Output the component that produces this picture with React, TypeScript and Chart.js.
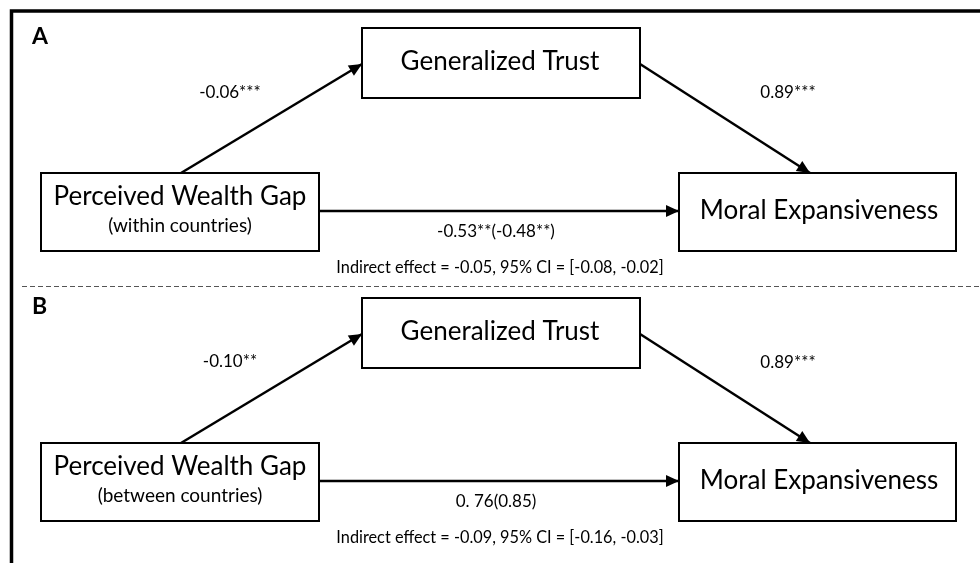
import React, { useEffect, useRef } from "react";
import { Chart, registerables } from "chart.js";

Chart.register(...registerables);

// ---- data ----
const panelIds = ["A", "B"];
const nodeLabels = ["Perceived Wealth Gap", "Generalized Trust", "Moral Expansiveness"];
const predictorSubtitles = ["(within countries)", "(between countries)"];
const pathA = ["-0.06***", "-0.10**"];
const pathB = ["0.89***", "0.89***"];
const pathC = ["-0.53**(-0.48**)", "0. 76(0.85)"];
const indirectEffect = [-0.05, -0.09];
const ciLower = [-0.08, -0.16];
const ciUpper = [-0.02, -0.03];

// ---- layout (diagram coordinates, y downwards) ----
const panelOffset = [0, 270];
// boxes: [x0, y0, x1, y1] for predictor, mediator, outcome
const boxes = [
  [41, 173, 319, 251],
  [362, 28, 640, 98],
  [679, 173, 956, 251],
];
// edges: from -> to points
const edges = [
  [[181, 173], [362, 64]],
  [[640, 64], [810, 173]],
  [[319, 211], [679, 211]],
];
const FONT = "Lato, 'Open Sans', sans-serif";

function fmt(v: number) {
  return v.toFixed(2);
}

export default function App() {
  const ref = useRef<HTMLCanvasElement | null>(null);
  useEffect(() => {
    document.body.style.margin = "0";
    const canvas = ref.current!;
    const datasets: any[] = [];
    panelIds.forEach((_, p) => {
      edges.forEach((e) => {
        datasets.push({
          type: "line",
          data: e.map(([x, y]) => ({ x, y: y + panelOffset[p] })),
          borderColor: "#000",
          borderWidth: 2.5,
          pointRadius: 0,
          showLine: true,
          fill: false,
        });
      });
    });

    const diagram = {
      id: "diagram",
      beforeDatasetsDraw(chart: any) {
        const ctx = chart.ctx as CanvasRenderingContext2D;
        const xs = chart.scales.x;
        const ys = chart.scales.y;
        const X = (v: number) => xs.getPixelForValue(v);
        const Y = (v: number) => ys.getPixelForValue(v);
        ctx.save();
        ctx.fillStyle = "#fff";
        ctx.fillRect(0, 0, chart.width, chart.height);
        // frame
        ctx.strokeStyle = "#000";
        ctx.lineWidth = 3.5;
        ctx.beginPath();
        ctx.moveTo(X(11.5), Y(563));
        ctx.lineTo(X(11.5), Y(11));
        ctx.lineTo(X(980), Y(11));
        ctx.stroke();
        // dashed separator
        ctx.strokeStyle = "#555";
        ctx.lineWidth = 1;
        ctx.setLineDash([5, 3]);
        ctx.beginPath();
        ctx.moveTo(X(22), Y(286.5));
        ctx.lineTo(X(980), Y(286.5));
        ctx.stroke();
        ctx.setLineDash([]);
        ctx.restore();
      },
      afterDatasetsDraw(chart: any) {
        const ctx = chart.ctx as CanvasRenderingContext2D;
        const xs = chart.scales.x;
        const ys = chart.scales.y;
        const X = (v: number) => xs.getPixelForValue(v);
        const Y = (v: number) => ys.getPixelForValue(v);
        ctx.save();
        ctx.fillStyle = "#000";
        ctx.strokeStyle = "#000";
        const text = (t: string, x: number, y: number, size: number, weight = "normal", align: CanvasTextAlign = "center") => {
          ctx.font = `${weight} ${size}px ${FONT}`;
          ctx.textAlign = align;
          ctx.textBaseline = "middle";
          ctx.fillText(t, X(x), Y(y));
        };
        panelIds.forEach((id, p) => {
          const o = panelOffset[p];
          // boxes
          ctx.lineWidth = 2;
          boxes.forEach(([x0, y0, x1, y1]) => {
            ctx.fillStyle = "#fff";
            ctx.fillRect(X(x0), Y(y0 + o), X(x1) - X(x0), Y(y1 + o) - Y(y0 + o));
            ctx.strokeRect(X(x0), Y(y0 + o), X(x1) - X(x0), Y(y1 + o) - Y(y0 + o));
          });
          ctx.fillStyle = "#000";
          // arrowheads
          edges.forEach(([[x0, y0], [x1, y1]]) => {
            const px0 = X(x0), py0 = Y(y0 + o), px1 = X(x1), py1 = Y(y1 + o);
            const ang = Math.atan2(py1 - py0, px1 - px0);
            const L = 13, W = 6;
            ctx.beginPath();
            ctx.moveTo(px1, py1);
            ctx.lineTo(px1 - L * Math.cos(ang) + W * Math.sin(ang), py1 - L * Math.sin(ang) - W * Math.cos(ang));
            ctx.lineTo(px1 - L * Math.cos(ang) - W * Math.sin(ang), py1 - L * Math.sin(ang) + W * Math.cos(ang));
            ctx.closePath();
            ctx.fill();
          });
          // panel letter
          text(id, 32, 37 + o, 23, "bold", "left");
          // node labels
          text(nodeLabels[0], 180, 197 + o, 26);
          text(predictorSubtitles[p], 180, 226 + o, 19);
          text(nodeLabels[1], 500, 62 + o, 26);
          text(nodeLabels[2], 819, 211 + o, 26);
          // coefficients
          text(pathA[p], 230, 93 + o + (p ? -1 : 0), 17);
          text(pathB[p], 788, 93 + o, 17);
          text(pathC[p], 496, 232 + o, 17);
          text(
            `Indirect effect = ${fmt(indirectEffect[p])}, 95% CI = [${fmt(ciLower[p])}, ${fmt(ciUpper[p])}]`,
            500,
            268 + o,
            16.3
          );
        });
        ctx.restore();
      },
    };

    const chart = new Chart(canvas, {
      type: "scatter",
      data: { datasets },
      options: {
        animation: false,
        responsive: true,
        maintainAspectRatio: false,
        layout: { padding: 0 },
        plugins: { legend: { display: false }, tooltip: { enabled: false } },
        scales: {
          x: { type: "linear", min: 0, max: 980, display: false },
          y: { type: "linear", min: 0, max: 563, reverse: true, display: false },
        },
      },
      plugins: [diagram],
    });
    return () => chart.destroy();
  }, []);
  return (
    <div style={{ position: "fixed", left: 0, top: 0, width: 980, height: 563, background: "#fff" }}>
      <canvas ref={ref} />
    </div>
  );
}
